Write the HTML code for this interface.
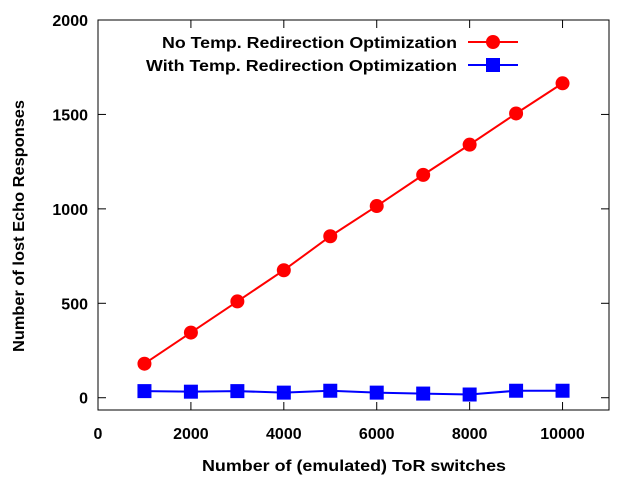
<!DOCTYPE html>
<html><head><meta charset="utf-8"><style>body{margin:0;background:#fff}svg{display:block;font-family:"Liberation Sans",sans-serif;font-weight:bold}</style></head>
<body>
<svg id="chart" width="640" height="480"></svg>
<script>
const xValues=[1000,2000,3000,4000,5000,6000,7000,8000,9000,10000];
const noOptValues=[180,345,510,675,855,1015,1180,1340,1505,1665];
const withOptValues=[35,32,35,27,37,27,22,17,37,37];
const xTicks=[0,2000,4000,6000,8000,10000];
const yTicks=[0,500,1000,1500,2000];
const L=98,R=609,T=20,B=410,XMIN=0,XMAX=11000,YMIN=-65,YMAX=2000;
const sx=v=>L+(v-XMIN)/(XMAX-XMIN)*(R-L);
const sy=v=>B-(v-YMIN)/(YMAX-YMIN)*(B-T);
const svg=document.getElementById('chart');const NS='http://www.w3.org/2000/svg';
function mk(t,a,p){const e=document.createElementNS(NS,t);for(const k in a)e.setAttribute(k,a[k]);(p||svg).appendChild(e);return e;}
let e;
e=mk('rect',{x:L,y:T,width:R-L,height:B-T,fill:'none',stroke:'#000','stroke-width':1});


xTicks.forEach(v=>{
 e=mk('line',{x1:sx(v),x2:sx(v),y1:B,y2:B-8,stroke:'#000'});
 
 
 e=mk('line',{x1:sx(v),x2:sx(v),y1:T,y2:T+8,stroke:'#000'});
 
 
 e=mk('text',{x:sx(v),y:B+29,'text-anchor':'middle','font-size':16});e.textContent=v;
 
 
});
yTicks.forEach(v=>{
 e=mk('line',{x1:L,x2:L+8,y1:sy(v),y2:sy(v),stroke:'#000'});
 
 
 e=mk('line',{x1:R,x2:R-8,y1:sy(v),y2:sy(v),stroke:'#000'});
 
 
 e=mk('text',{x:L-10,y:sy(v)+6,'text-anchor':'end','font-size':16});e.textContent=v;
 
 
});
e=mk('text',{x:354,y:471,'text-anchor':'middle','font-size':16,textLength:304,lengthAdjust:'spacingAndGlyphs'});e.textContent='Number of (emulated) ToR switches';


e=mk('text',{x:0,y:0,'text-anchor':'middle','font-size':16,textLength:252,lengthAdjust:'spacingAndGlyphs',transform:'translate(24,226) rotate(-90)'});e.textContent='Number of lost Echo Responses';


function series(vals,color,shape,name){
 const pts=xValues.map((x,i)=>sx(x)+','+sy(vals[i])).join(' ');
 e=mk('polyline',{points:pts,fill:'none',stroke:color,'stroke-width':2});
 
 
 xValues.forEach((x,i)=>{marker(sx(x),sy(vals[i]),color,shape,name);});
}
function marker(cx,cy,color,shape,name){
 if(shape==='circle')e=mk('circle',{cx:cx,cy:cy,r:7,fill:color});
 else e=mk('rect',{x:cx-7,y:cy-7,width:14,height:14,fill:color});
 
 
}
series(noOptValues,'#f00','circle','no-opt');
series(withOptValues,'#00f','square','with-opt');
[['No Temp. Redirection Optimization','#f00','circle','no-opt',42,295],['With Temp. Redirection Optimization','#00f','square','with-opt',65,311]].forEach(r=>{
 e=mk('text',{x:457,y:r[4]+6,'text-anchor':'end','font-size':16,textLength:r[5],lengthAdjust:'spacingAndGlyphs'});e.textContent=r[0];
 
 
 e=mk('line',{x1:468,x2:518,y1:r[4],y2:r[4],stroke:r[1],'stroke-width':2});
 
 
 marker(493,r[4],r[1],r[2],'legend-'+r[3]);
});
</script>
</body></html>
